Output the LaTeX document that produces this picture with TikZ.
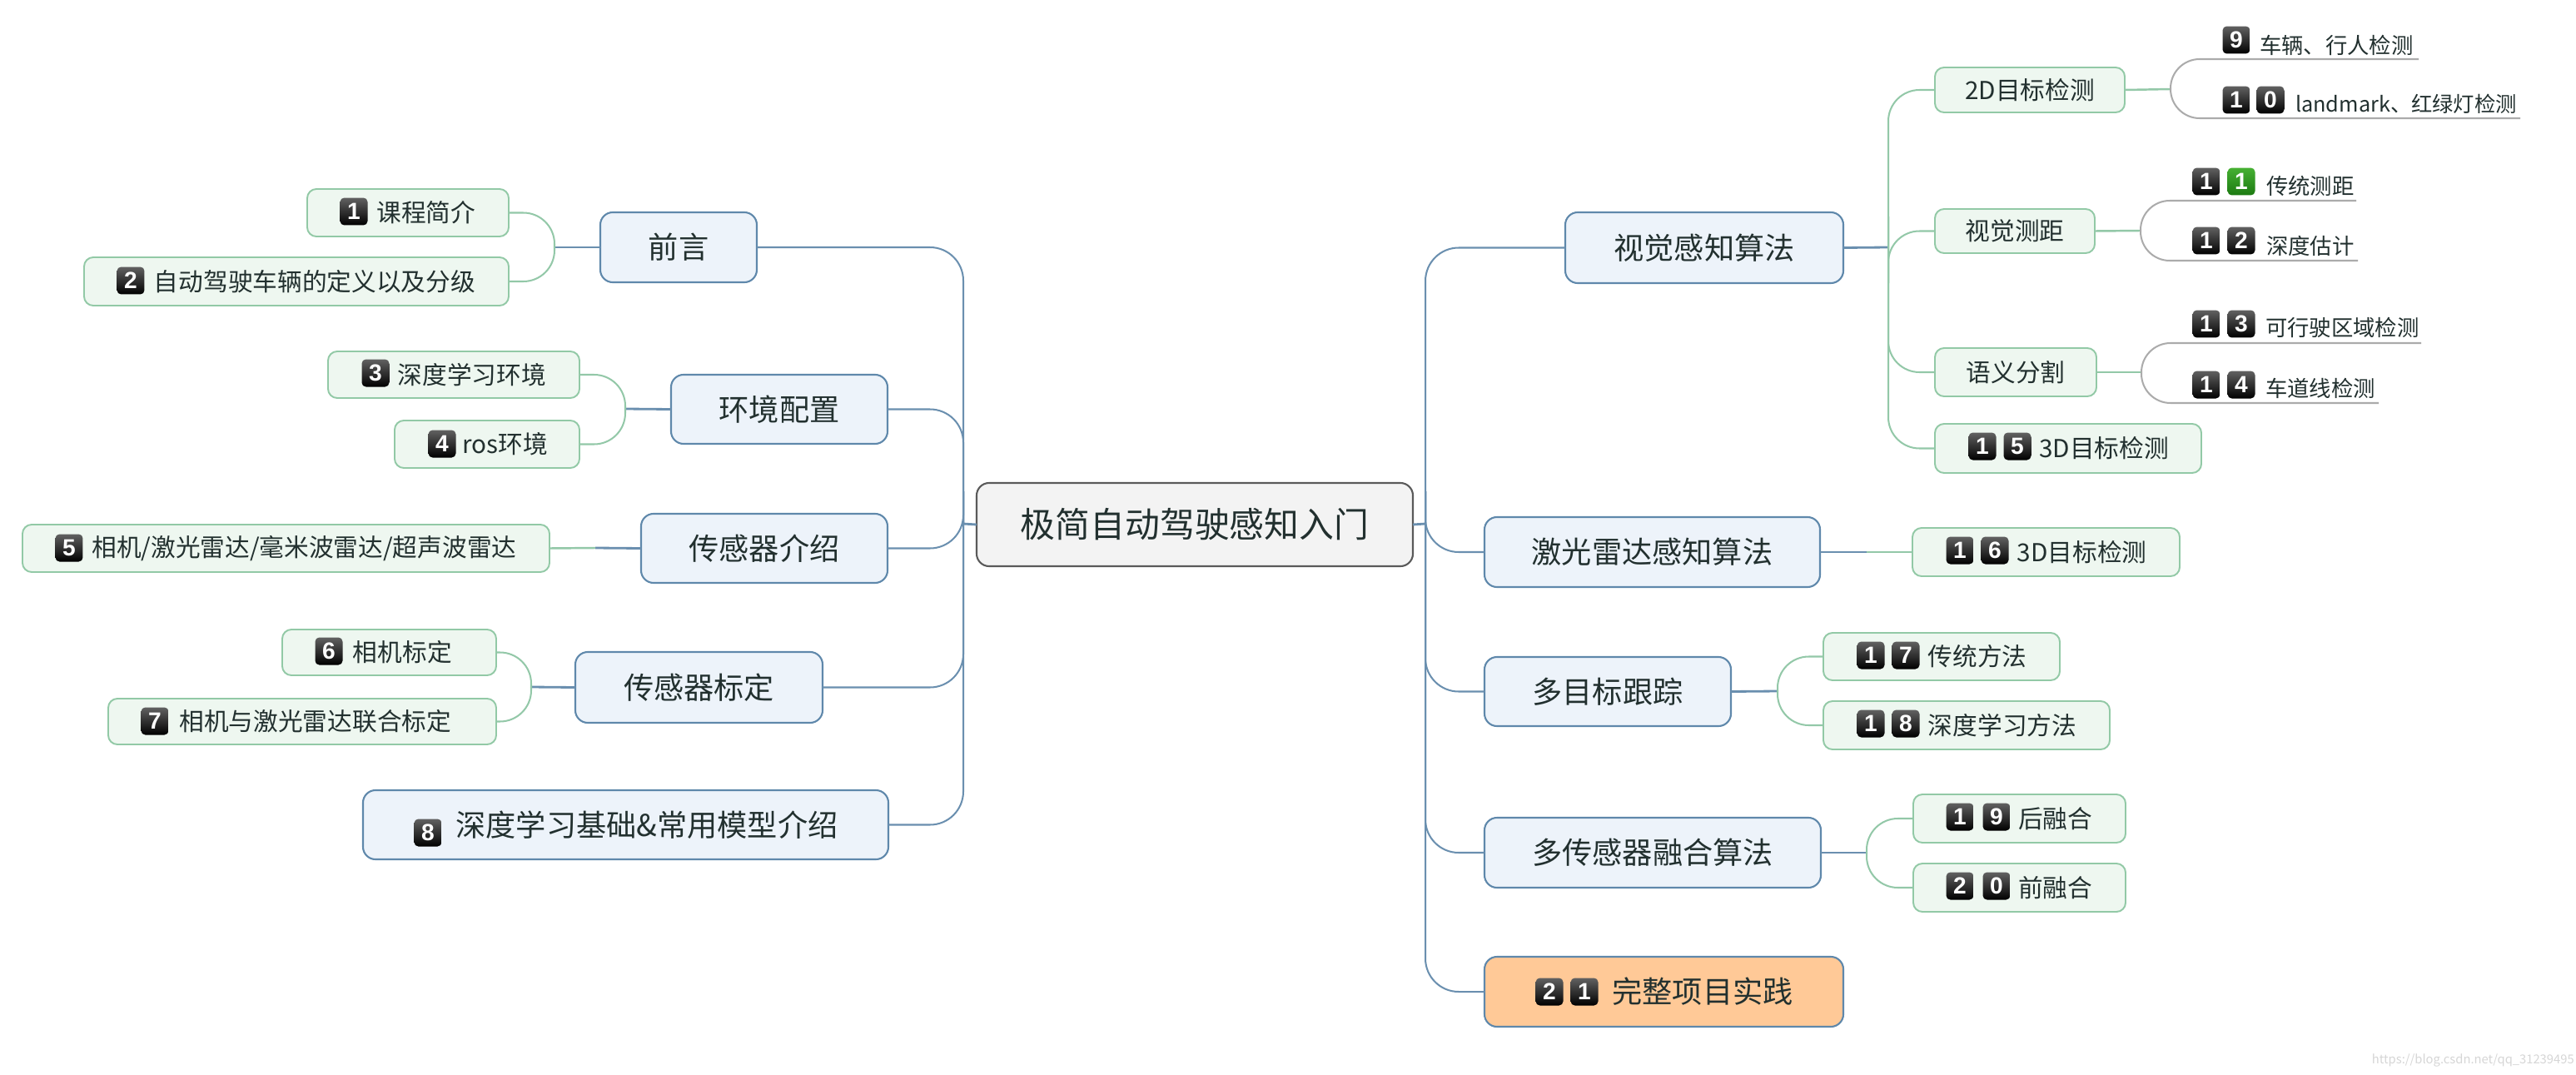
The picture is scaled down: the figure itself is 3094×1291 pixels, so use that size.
\documentclass[tikz,border=0pt]{standalone}
\usepackage{fontspec}
\setmainfont{Noto Sans CJK SC}
\newfontfamily\digitfont{Liberation Sans}
\definecolor{leaffill}{HTML}{EEF7F0}
\definecolor{leafline}{HTML}{92C9A6}
\definecolor{branchfill}{HTML}{EDF3FA}
\definecolor{branchline}{HTML}{5F88AB}
\definecolor{rootfill}{HTML}{F3F3F3}
\definecolor{rootline}{HTML}{5A5A5A}
\definecolor{orangefill}{HTML}{FFC997}
\definecolor{inktext}{HTML}{22302F}
\definecolor{linkblue}{HTML}{6A8FAF}
\definecolor{linkgreen}{HTML}{93C8A8}
\definecolor{linkgray}{HTML}{ABABAB}
\definecolor{badgegreentop}{HTML}{46B032}
\definecolor{badgegreenbot}{HTML}{1C7A12}
\newcommand{\mmbox}[7]{\node[#2, minimum width={(#5-#3)*0.02cm}, minimum height={(#6-#4)*0.02cm}] (#1) at ({(#3+#5)/2},{(#4+#6)/2}) {#7};}
\newcommand{\onegap}{\hspace*{25pt}}
\newcommand{\onegapb}{\hspace*{18pt}}
\newcommand{\twogap}{\hspace*{49pt}}
\tikzset{
  basebox/.style={draw, inner sep=0pt, outer sep=0pt, text=inktext, align=center},
  leafbox/.style={basebox, fill=leaffill, draw=leafline, line width=1.1pt, rounded corners=0.22cm, font=\fontsize{16.9}{20}\selectfont},
  branchbox/.style={basebox, fill=branchfill, draw=branchline, line width=1.2pt, rounded corners=0.3cm, font=\fontsize{20.6}{25}\selectfont},
  orangebox/.style={branchbox, fill=orangefill},
  rootbox/.style={basebox, fill=rootfill, draw=rootline, line width=1.2pt, rounded corners=0.3cm, font=\fontsize{23.8}{28}\selectfont},
  linetext/.style={inner sep=0pt, outer sep=0pt, anchor=west, text=inktext, font=\fontsize{15}{18}\selectfont},
  linetextsmall/.style={linetext, font=\fontsize{14.4}{18}\selectfont},
  badge/.style={rounded corners=0.1cm, minimum size=0.66cm, inner sep=0pt, outer sep=0pt, top color=black!62, bottom color=black, text=white, font=\digitfont\bfseries\fontsize{16}{18}\selectfont},
  greenbadge/.style={badge, top color=badgegreentop, bottom color=badgegreenbot},
  bluelink/.style={draw=linkblue, line width=1.15pt, rounded corners=0.8cm},
  bluestem/.style={draw=linkblue, line width=1.6pt},
  greenlink/.style={draw=linkgreen, line width=1.15pt, rounded corners=0.75cm},
  greenstem/.style={draw=linkgreen, line width=1.4pt},
  graylink/.style={draw=linkgray, line width=1.15pt, rounded corners=0.7cm},
  stamp/.style={inner sep=0pt, text=black!16, font=\fontsize{8.4}{10}\selectfont}
}
\begin{document}
\begin{tikzpicture}[x=0.02cm,y=-0.02cm]
\useasboundingbox[fill=white] (0,0) rectangle (3094,1291);

% root
\mmbox{root}{rootbox}{1173}{580}{1697}{680}{极简自动驾驶感知入门}

% left branches
\mmbox{qy}{branchbox}{721}{255}{909}{339}{前言}
\mmbox{hj}{branchbox}{806}{450}{1066}{533}{环境配置}
\mmbox{cg}{branchbox}{770}{617}{1066}{700}{传感器介绍}
\mmbox{bd}{branchbox}{691}{783}{988}{868}{传感器标定}
\mmbox{sd}{branchbox}{436}{949}{1067}{1032}{\hspace*{29pt}深度学习基础\&常用模型介绍}

% left leaves
\mmbox{l1}{leafbox}{369}{227}{611}{284}{\onegap 课程简介}
\mmbox{l2}{leafbox}{101}{309}{611}{367}{\onegap 自动驾驶车辆的定义以及分级}
\mmbox{l3}{leafbox}{394}{422}{696}{478}{\onegap 深度学习环境}
\mmbox{l4}{leafbox}{474}{505}{696}{562}{\onegap ros环境}
\mmbox{l5}{leafbox}{27}{630}{660}{687}{\onegap 相机/激光雷达/毫米波雷达/超声波雷达}
\mmbox{l6}{leafbox}{339}{756}{596}{811}{\onegapb 相机标定}
\mmbox{l7}{leafbox}{130}{839}{596}{894}{\onegapb 相机与激光雷达联合标定}

% right branches
\mmbox{sj}{branchbox}{1880}{255}{2214}{340}{视觉感知算法}
\mmbox{jg}{branchbox}{1783}{621}{2186}{705}{激光雷达感知算法}
\mmbox{mb}{branchbox}{1783}{789}{2079}{872}{多目标跟踪}
\mmbox{rh}{branchbox}{1783}{982}{2187}{1066}{多传感器融合算法}
\mmbox{xm}{orangebox}{1783}{1149}{2214}{1233}{\hspace*{53pt}完整项目实践}

% right leaves
\mmbox{d2}{leafbox}{2324}{81}{2552}{135}{2D目标检测}
\mmbox{cj}{leafbox}{2324}{251}{2516}{304}{视觉测距}
\mmbox{yy}{leafbox}{2324}{418}{2518}{476}{语义分割}
\mmbox{r15}{leafbox}{2324}{509}{2644}{568}{\twogap 3D目标检测}
\mmbox{r16}{leafbox}{2297}{634}{2618}{692}{\twogap 3D目标检测}
\mmbox{r17}{leafbox}{2190}{760}{2474}{817}{\twogap 传统方法}
\mmbox{r18}{leafbox}{2190}{842}{2534}{900}{\twogap 深度学习方法}
\mmbox{r19}{leafbox}{2298}{954}{2553}{1012}{\twogap 后融合}
\mmbox{r20}{leafbox}{2298}{1037}{2553}{1095}{\twogap 前融合}

% underlined items
\node[linetext] (t9) at (2714,54) {车辆、行人检测};
\node[linetextsmall] (t10) at (2757,125) {landmark、红绿灯检测};
\node[linetext] (t11) at (2722,223) {传统测距};
\node[linetext] (t12) at (2722,295) {深度估计};
\node[linetext] (t13) at (2721,393) {可行驶区域检测};
\node[linetext] (t14) at (2721,466) {车道线检测};

% badges
\node[badge] (b1) at (425,254) {1};
\node[badge] (b2) at (157,337) {2};
\node[badge] (b3) at (451,448) {3};
\node[badge] (b4) at (531,533) {4};
\node[badge] (b5) at (83,658) {5};
\node[badge] (b6) at (395,782) {6};
\node[badge] (b7) at (186,866) {7};
\node[badge] (b8) at (514,1000) {8};
\node[badge] (b9) at (2686,48) {9};
\node[badge] (b10a) at (2686,120) {1};
\node[badge] (b10b) at (2727,120) {0};
\node[badge] (b11a) at (2650,218) {1};
\node[greenbadge] (b11b) at (2692,218) {1};
\node[badge] (b12a) at (2650,289) {1};
\node[badge] (b12b) at (2692,289) {2};
\node[badge] (b13a) at (2650,389) {1};
\node[badge] (b13b) at (2692,389) {3};
\node[badge] (b14a) at (2650,462) {1};
\node[badge] (b14b) at (2692,462) {4};
\node[badge] (b15a) at (2381,536) {1};
\node[badge] (b15b) at (2423,536) {5};
\node[badge] (b16a) at (2354,661) {1};
\node[badge] (b16b) at (2396,661) {6};
\node[badge] (b17a) at (2247,787) {1};
\node[badge] (b17b) at (2289,787) {7};
\node[badge] (b18a) at (2247,869) {1};
\node[badge] (b18b) at (2289,869) {8};
\node[badge] (b19a) at (2354,981) {1};
\node[badge] (b19b) at (2398,981) {9};
\node[badge] (b20a) at (2354,1064) {2};
\node[badge] (b20b) at (2398,1064) {0};
\node[badge] (b21a) at (1861,1191) {2};
\node[badge] (b21b) at (1903,1191) {1};

% junction coordinates
\coordinate (ls) at (1157,629);
\coordinate (lsu) at (1157,590);
\coordinate (rs) at (1712,629);
\coordinate (rsu) at (1712,590);
\coordinate (gj) at (2268,297);
\coordinate (gd) at (2268,340);
\coordinate (gu) at (2268,260);
\coordinate (jqy) at (666,297);
\coordinate (jhj) at (751,491);
\coordinate (jcg) at (715,658);
\coordinate (jbd) at (638,825);
\coordinate (jjg) at (2242,663);
\coordinate (jmb) at (2135,830);
\coordinate (jrh) at (2242,1024);
\coordinate (jd2) at (2607,107);
\coordinate (jcj) at (2571,277);
\coordinate (jyy) at (2572,447);
\coordinate (e9) at (2905,71);
\coordinate (e10) at (3027,142);
\coordinate (e11) at (2830,241);
\coordinate (e12) at (2832,313);
\coordinate (e13) at (2908,412);
\coordinate (e14) at (2857,484);

% root stems and main spines
\draw[bluestem] (root.west) -- (ls);
\draw[bluestem] (root.east) -- (rs);
\draw[bluelink] (qy.east) -| (ls);
\draw[bluelink] (hj.east) -| (ls);
\draw[bluelink] (cg.east) -| (lsu);
\draw[bluelink] (bd.east) -| (lsu);
\draw[bluelink] (sd.east) -| (lsu);
\draw[bluelink] (sj.west) -| (rs);
\draw[bluelink] (jg.west) -| (rsu);
\draw[bluelink] (mb.west) -| (rsu);
\draw[bluelink] (rh.west) -| (rsu);
\draw[bluelink] (xm.west) -| (rsu);

% left leaf links
\draw[bluestem] (qy.west) -- (jqy);
\draw[greenlink] (l1.east) -| (jqy);
\draw[greenlink] (l2.east) -| (jqy);
\draw[bluestem] (hj.west) -- (jhj);
\draw[greenlink] (l3.east) -| (jhj);
\draw[greenlink] (l4.east) -| (jhj);
\draw[bluestem] (cg.west) -- (jcg);
\draw[greenstem] (l5.east) -- (jcg);
\draw[bluestem] (bd.west) -- (jbd);
\draw[greenlink] (l6.east) -| (jbd);
\draw[greenlink] (l7.east) -| (jbd);

% right leaf links
\draw[bluestem] (sj.east) -- (gj);
\draw[greenlink] (d2.west) -| (gd);
\draw[greenlink] (cj.west) -| (gd);
\draw[greenlink] (yy.west) -| (gu);
\draw[greenlink] (r15.west) -| (gu);
\draw[bluestem] (jg.east) -- (jjg);
\draw[greenstem] (r16.west) -- (jjg);
\draw[bluestem] (mb.east) -- (jmb);
\draw[greenlink] (r17.west) -| (jmb);
\draw[greenlink] (r18.west) -| (jmb);
\draw[bluestem] (rh.east) -- (jrh);
\draw[greenlink] (r19.west) -| (jrh);
\draw[greenlink] (r20.west) -| (jrh);

% underlined item links
\draw[greenstem] (d2.east) -- (jd2);
\draw[graylink] (e9) -| (jd2);
\draw[graylink] (e10) -| (jd2);
\draw[greenstem] (cj.east) -- (jcj);
\draw[graylink] (e11) -| (jcj);
\draw[graylink] (e12) -| (jcj);
\draw[greenstem] (yy.east) -- (jyy);
\draw[graylink] (e13) -| (jyy);
\draw[graylink] (e14) -| (jyy);

% watermark
\node[stamp, anchor=east] (wm) at (3092,1273) {https://blog.csdn.net/qq\_31239495};
\end{tikzpicture}
\end{document}
